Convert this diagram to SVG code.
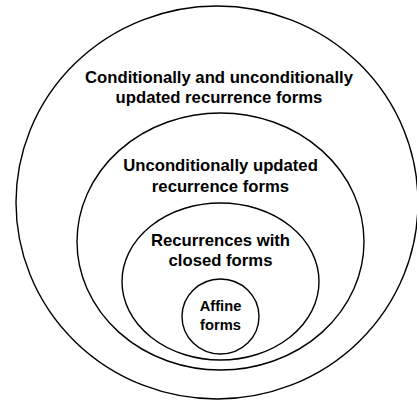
<svg xmlns="http://www.w3.org/2000/svg" width="417" height="400" viewBox="0 0 417 400">
<style>
.set{fill:none;stroke:#000;stroke-width:1.4}
.lbl{font-family:"Liberation Sans",Arial,Helvetica,sans-serif;font-weight:bold;font-size:16.7px;fill:#000;text-anchor:middle}
.sm{font-size:14.7px}
</style>
<rect width="417" height="400" fill="#fff"/>
<g id="outer">
<ellipse class="set" cx="217" cy="202.5" rx="201" ry="196.5"/>
<text class="lbl" x="219" y="83">Conditionally and unconditionally</text>
<text class="lbl" x="219" y="103">updated recurrence forms</text>
</g>
<g id="unconditional">
<ellipse class="set" cx="220.5" cy="241.5" rx="143.5" ry="128.5"/>
<text class="lbl" x="220.5" y="171">Unconditionally updated</text>
<text class="lbl" x="220.5" y="191.5">recurrence forms</text>
</g>
<g id="closed">
<ellipse class="set" cx="220.5" cy="281.5" rx="98.5" ry="78.5"/>
<text class="lbl" x="220.5" y="245.5">Recurrences with</text>
<text class="lbl" x="220.5" y="266">closed forms</text>
</g>
<g id="affine">
<ellipse class="set" cx="220.5" cy="316.5" rx="38.5" ry="37.5"/>
<text class="lbl sm" x="220.5" y="310.5">Affine</text>
<text class="lbl sm" x="220.5" y="330">forms</text>
</g>
<g id="connectors"/>
</svg>
